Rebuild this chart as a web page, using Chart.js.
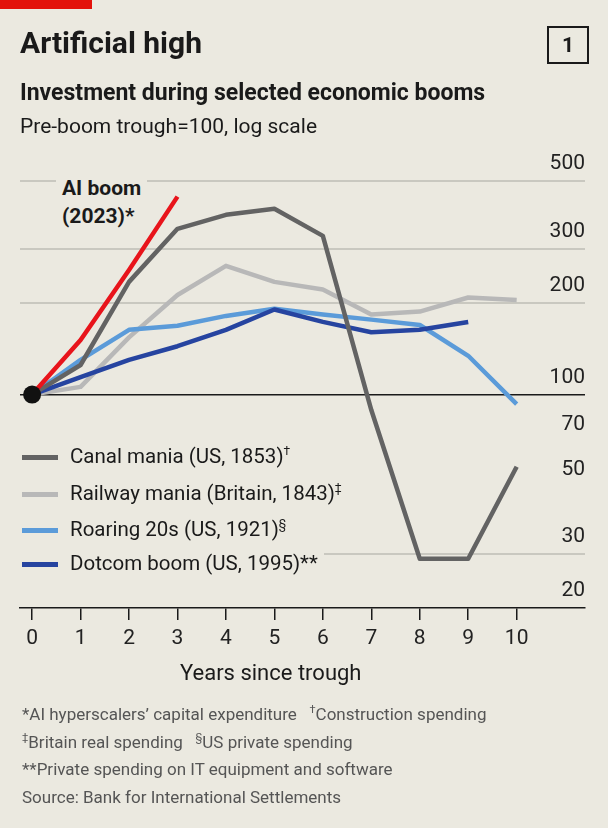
<!DOCTYPE html>
<html><head><meta charset="utf-8">
<script src="https://cdn.jsdelivr.net/npm/chart.js@4"></script>
<style>
body{margin:0;background:#ebe9e0;font-family:Roboto,"Noto Sans",sans-serif;color:#1a1a1a}
#wrap{position:relative;width:608px;height:828px;overflow:hidden}
canvas{position:absolute;left:0;top:0}
.t{position:absolute;white-space:nowrap}
.leg{position:absolute;left:14px;height:30px;background:#ebe9e0;padding-right:6px;font-size:20.5px;line-height:30px}
.leg i{display:inline-block;width:36px;height:5px;margin:0 12px 0 8px;vertical-align:middle}
.fn{position:absolute;left:22px;font-size:17px;color:#555}
</style></head><body><div id="wrap">
<canvas id="c" width="608" height="828"></canvas>
<div class="t" style="left:0;top:0;width:92px;height:9px;background:#e3120b"></div>
<div class="t" style="left:20px;top:25px;font-size:30px;font-weight:700">Artificial high</div>
<div class="t" style="left:547px;top:26px;width:38px;height:34px;border:2px solid #1a1a1a;font-size:21px;font-weight:700;text-align:center;line-height:34px">1</div>
<div class="t" style="left:20px;top:79px;font-size:23px;font-weight:700">Investment during selected economic booms</div>
<div class="t" style="left:20px;top:114px;font-size:21px">Pre-boom trough=100, log scale</div>
<div class="t" style="left:56px;top:174px;font-size:21px;font-weight:700;line-height:28px;background:#ebe9e0;padding:0 6px">AI boom<br>(2023)*</div>
<div class="leg" style="top:436px"><i style="background:#636363"></i>Canal mania (US, 1853)<sup style="font-size:12px">†</sup></div>
<div class="leg" style="top:473px"><i style="background:#b8b8b8"></i>Railway mania (Britain, 1843)<sup style="font-size:12px">‡</sup></div>
<div class="leg" style="top:509px"><i style="background:#5b9bd9"></i>Roaring 20s (US, 1921)<sup style="font-size:12px">§</sup></div>
<div class="leg" style="top:548px"><i style="background:#2644a0"></i>Dotcom boom (US, 1995)**</div>
<div class="t" style="left:180px;top:660px;font-size:22px">Years since trough</div>
<div class="fn" style="top:703px">*AI hyperscalers’ capital expenditure &nbsp;&nbsp;<sup style="font-size:11px">†</sup>Construction spending</div>
<div class="fn" style="top:731px"><sup style="font-size:11px">‡</sup>Britain real spending &nbsp;&nbsp;<sup style="font-size:11px">§</sup>US private spending</div>
<div class="fn" style="top:759px">**Private spending on IT equipment and software</div>
<div class="fn" style="top:787px">Source: Bank for International Settlements</div>
</div>
<script>
const years=[0,1,2,3,4,5,6,7,8,9,10];
const yTicks=[20,30,50,70,100,200,300,500];
const aiBoom=[100,151,256,445];
const canalMania=[100,125,234,349,388,406,331,89,29,29,58];
const railwayMania=[100,106,154,212,264,234,221,183,187,208,204];
const roaring20s=[100,130,163,168,181,191,183,176,169,134,93];
const dotcomBoom=[100,114,130,144,163,190,173,160,163,173];
const pts=a=>a.map((v,i)=>({x:years[i],y:v}));
const ln=(d,c)=>({data:pts(d),borderColor:c,borderWidth:4.5,pointRadius:0,tension:0,borderJoinStyle:'round'});
new Chart(document.getElementById('c'),{
type:'line',
data:{datasets:[
{data:[{x:0,y:100}],pointRadius:9,pointBackgroundColor:'#111',pointBorderWidth:0,showLine:false},
ln(aiBoom,'#e8141b'),ln(canalMania,'#636363'),ln(dotcomBoom,'#2644a0'),ln(roaring20s,'#5b9bd9'),ln(railwayMania,'#b8b8b8')]},
options:{responsive:false,animation:false,
layout:{padding:{top:157,left:20,right:23,bottom:0}},
plugins:{legend:{display:false},tooltip:{enabled:false}},
scales:{
x:{type:'linear',min:-0.25,max:11.41,
afterBuildTicks:s=>{s.ticks=years.map(v=>({value:v}));},
afterFit:s=>{s.height=220;},
border:{color:'#1a1a1a',width:1.5},
grid:{drawOnChartArea:false,tickLength:12,color:'#1a1a1a',lineWidth:1.5},
ticks:{padding:6,color:'#222',font:{family:'Roboto',size:21},maxRotation:0}},
y:{type:'logarithmic',position:'right',min:20,max:600,
afterBuildTicks:s=>{s.ticks=yTicks.map(v=>({value:v}));},
afterFit:s=>{s.width=0;},
border:{display:false},
grid:{drawTicks:false,color:c=>{const v=c.tick&&c.tick.value;return v===100?'#1a1a1a':([200,300,500,30].includes(v)?'#c9c8c0':'rgba(0,0,0,0)');},lineWidth:c=>c.tick&&c.tick.value===100?1.5:2},
ticks:{mirror:true,padding:0,labelOffset:-17,color:'#222',font:{family:'Roboto',size:21},callback:v=>String(v)}}
}}});
</script></body></html>
